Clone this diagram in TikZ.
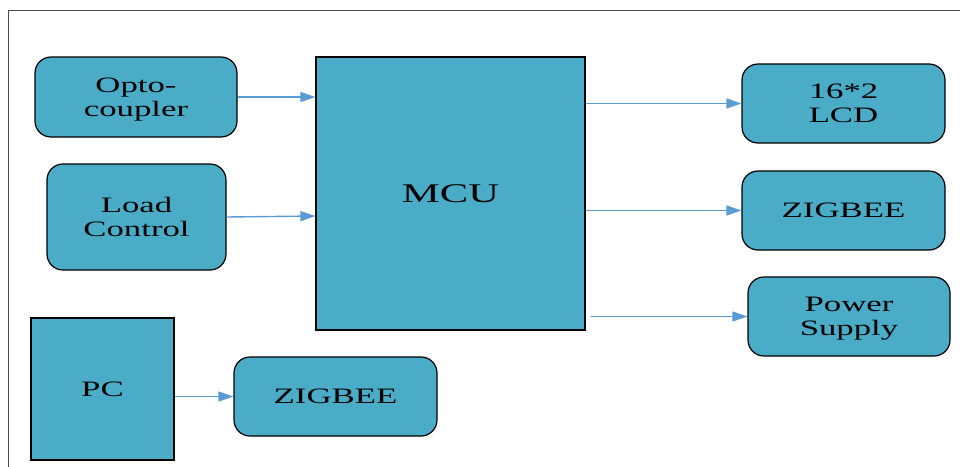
\documentclass[tikz,border=0pt]{standalone}
\usepackage{fontspec}
\setmainfont{Liberation Serif}
\newfontfamily\widefont[FakeStretch=1.58]{Liberation Serif}
\usetikzlibrary{arrows.meta}
\definecolor{boxfill}{HTML}{4AACC6}
\definecolor{arrowblue}{HTML}{5B9BD5}
\definecolor{framegray}{HTML}{4A4A4A}
\tikzset{
  blockbase/.style={draw=black, line width=1.2pt, fill=boxfill, inner sep=0pt,
    align=center, text=black, font=\widefont\fontsize{22}{24}\selectfont},
  roundbox/.style={blockbase, rounded corners=16pt},
  squarebox/.style={blockbase},
  twoline/.style={text height=44pt, text depth=6pt},
  conn/.style={draw=arrowblue, line width=1.4pt, -{Triangle[length=15pt,width=10pt]}},
}
\begin{document}
\begin{tikzpicture}[x=1pt,y=-1pt]
\useasboundingbox (0,0) rectangle (960,466);
\draw[framegray, line width=1.6pt] (8.5,470) -- (8.5,10.5) -- (965,10.5);

\node[roundbox, twoline, minimum width=202pt, minimum height=80pt] (opto) at (136,97) {Opto-\\coupler};
\node[roundbox, twoline, minimum width=179pt, minimum height=106pt] (load) at (136.5,217) {Load\\Control};
\node[squarebox, minimum width=269pt, minimum height=273pt, font=\widefont\fontsize{27}{30}\selectfont] (mcu) at (450.5,193.5) {MCU};
\node[roundbox, twoline, minimum width=203pt, minimum height=79pt] (lcd) at (843.5,103.5) {16*2\\LCD};
\node[roundbox, minimum width=203pt, minimum height=79pt] (zigr) at (843.5,210.5) {ZIGBEE};
\node[roundbox, twoline, minimum width=202pt, minimum height=79pt] (power) at (849,316.5) {Power\\Supply};
\node[squarebox, minimum width=143pt, minimum height=142pt] (pc) at (102.5,389) {PC};
\node[roundbox, minimum width=203pt, minimum height=79pt] (zigb) at (335.5,396.5) {ZIGBEE};

\draw[conn] (opto.east) -- (opto.east -| mcu.west);
\draw[conn] (load.east) -- ([yshift=1pt]load.east -| mcu.west);
\draw[conn] (lcd.west -| mcu.east) -- (lcd.west);
\draw[conn] (zigr.west -| mcu.east) -- (zigr.west);
\draw[conn] ([xshift=5pt]power.west -| mcu.east) -- (power.west);
\draw[conn] (pc.east |- zigb.west) -- (zigb.west);
\end{tikzpicture}
\end{document}
